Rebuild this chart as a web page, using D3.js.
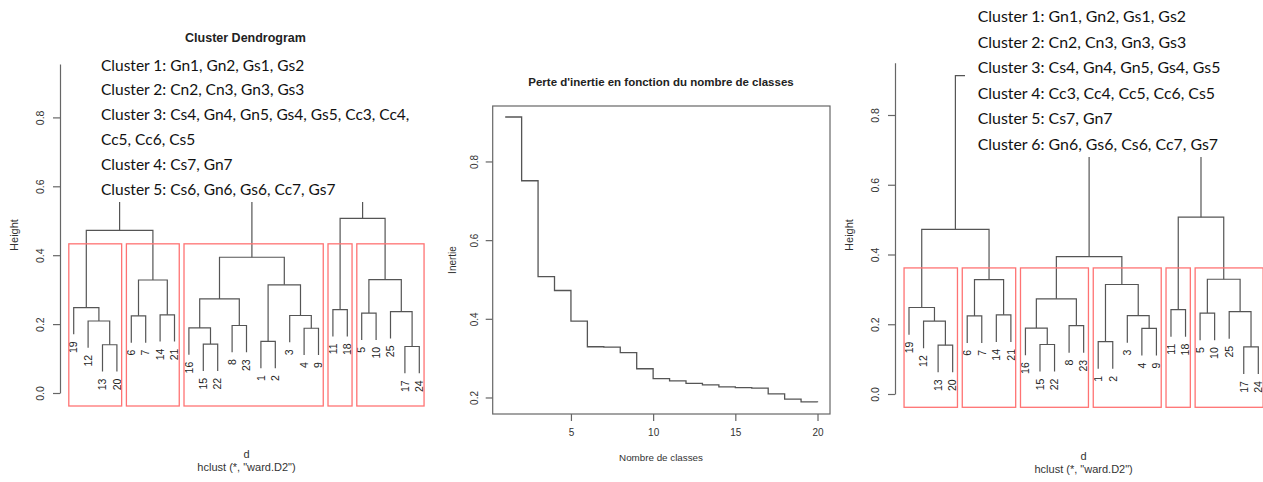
<!DOCTYPE html>
<html><head><meta charset="utf-8">
<script src="https://cdn.jsdelivr.net/npm/d3@7"></script>
<style>body{margin:0;background:#fff}svg{display:block}</style>
</head><body><svg id="c" width="1263" height="482"></svg>
<script>
// ---------- data ----------
const leafOrder = [19,12,13,20,6,7,14,21,16,15,22,8,23,1,2,3,4,9,11,18,5,10,25,17,24];
// hclust merge matrix (negative = leaf label, positive = earlier merge index, 1-based)
const mergeA = [-17,-13,-15,-1,-4,-16,-8,-12,-6,-3,-14,-5,-25,-11,-19,6,4,9,12,16,15,14,20,21];
const mergeB = [-24,-20,-22,-2,-9,3,-23,2,-7,5,-21,-10,1,-18,8,7,10,11,13,17,18,19,22,23];
const mergeHeight = [0.135,0.140,0.142,0.150,0.188,0.189,0.196,0.209,0.224,0.225,0.227,0.232,0.236,0.242,0.248,0.273,0.314,0.328,0.329,0.394,0.472,0.507,0.751,0.913];
const clusterSizes5 = [4,4,10,2,5];
const clusterSizes6 = [4,4,5,5,2,5];
const heightTicks = [0,0.2,0.4,0.6,0.8];
const nbClasses = [1,2,3,4,5,6,7,8,9,10,11,12,13,14,15,16,17,18,19,20];
const inertie = [0.913,0.751,0.507,0.472,0.394,0.329,0.328,0.314,0.273,0.248,0.242,0.236,0.232,0.227,0.225,0.224,0.209,0.196,0.189,0.188];
const classTicks = [5,10,15,20];
const inertieTicks = [0.2,0.4,0.6,0.8];
const textLeft = ["Cluster 1: Gn1, Gn2, Gs1, Gs2","Cluster 2: Cn2, Cn3, Gn3, Gs3","Cluster 3: Cs4, Gn4, Gn5, Gs4, Gs5, Cc3, Cc4,","Cc5, Cc6, Cs5","Cluster 4: Cs7, Gn7","Cluster 5: Cs6, Gn6, Gs6, Cc7, Gs7"];
const textRight = ["Cluster 1: Gn1, Gn2, Gs1, Gs2","Cluster 2: Cn2, Cn3, Gn3, Gs3","Cluster 3: Cs4, Gn4, Gn5, Gs4, Gs5","Cluster 4: Cc3, Cc4, Cc5, Cc6, Cs5","Cluster 5: Cs7, Gn7","Cluster 6: Gn6, Gs6, Cs6, Cc7, Gs7"];

// ---------- drawing ----------
const svg = d3.select("#c");
const RFONT = "'Liberation Sans', Arial, sans-serif";
const LINE = "#555";

function drawDendro(cfg){
  const g = svg.append("g");
  const x = d3.scalePoint().domain(leafOrder).range(cfg.xr);
  const step = x.step();
  const y = d3.scaleLinear().domain([0, cfg.ytop]).range([cfg.y0, cfg.y0 - cfg.ytop*cfg.ppu]);
  const hang = 0.1*(d3.max(mergeHeight)-d3.min(mergeHeight));
  const nodes = [];
  const leafParentH = {};
  mergeHeight.forEach((h,i)=>{
    const a = mergeA[i], b = mergeB[i];
    const ca = a<0 ? {x:x(-a), h:h-hang} : nodes[a-1];
    const cb = b<0 ? {x:x(-b), h:h-hang} : nodes[b-1];
    if(a<0) leafParentH[-a]=h; if(b<0) leafParentH[-b]=h;
    nodes.push({x:(ca.x+cb.x)/2, h:h, ca:ca, cb:cb});
  });
  g.selectAll("path.m").data(nodes).join("path")
    .attr("fill","none").attr("stroke",LINE).attr("stroke-width",1.2)
    .attr("d",n=>`M${n.ca.x},${y(n.ca.h)}V${y(n.h)}H${n.cb.x}V${y(n.cb.h)}`);
  // leaf labels
  g.selectAll("text.leaf").data(leafOrder).join("text")
    .attr("transform",d=>`translate(${x(d)},${y(leafParentH[d]-hang)+7}) rotate(-90)`)
    .attr("text-anchor","end").attr("dy","0.36em")
    .style("font-family",RFONT).style("font-size","10.5px").attr("fill","#222")
    .text(d=>d);
  // rectangles (rect.hclust style)
  const k = cfg.sizes.length, n = mergeHeight.length;
  const cut = (mergeHeight[n-k+1] + mergeHeight[n-k])/2;
  let cum = 0;
  const rects = cfg.sizes.map(s=>{const r={first:leafOrder[cum], last:leafOrder[cum+s-1]}; cum+=s; return r;});
  g.selectAll("rect.cl").data(rects).join("rect")
    .attr("x",r=>x(r.first)-0.34*step)
    .attr("width",r=>x(r.last)+0.33*step-(x(r.first)-0.34*step))
    .attr("y",y(cut)).attr("height",cfg.ybot-y(cut))
    .attr("fill","none").attr("stroke","#ff7373").attr("stroke-width",1.3);
  // axis
  const ax = g.append("g").attr("transform",`translate(${cfg.ax},0)`)
    .call(d3.axisLeft(y).tickValues(heightTicks).tickFormat(d3.format(".1f")).tickSize(7).tickSizeOuter(0));
  ax.select(".domain").attr("stroke","#666").attr("stroke-width",1.2);
  ax.selectAll(".tick line").attr("stroke","#666").attr("stroke-width",1.2);
  ax.selectAll(".tick text").attr("transform","rotate(-90)").attr("x",0).attr("y",-16).attr("dy",0)
    .attr("text-anchor","middle").style("font-family",RFONT).style("font-size","10.5px").attr("fill","#333");
  g.append("text").attr("transform",`translate(${cfg.hx},235) rotate(-90)`).attr("text-anchor","middle").attr("dy","0.35em")
    .style("font-family",RFONT).style("font-size","11px").attr("fill","#333").text("Height");
  const cx = (cfg.xr[0]+cfg.xr[1])/2;
  g.append("text").attr("x",cx).attr("y",cfg.subY).attr("text-anchor","middle")
    .style("font-family",RFONT).style("font-size","11px").attr("fill","#333").text("d");
  g.append("text").attr("x",cx).attr("y",cfg.subY+13).attr("text-anchor","middle")
    .style("font-family",RFONT).style("font-size","11px").attr("fill","#333").text('hclust (*, "ward.D2")');
  // white overlay with cluster text
  g.append("rect").attr("x",cfg.box[0]).attr("y",cfg.box[1]).attr("width",cfg.box[2]).attr("height",cfg.box[3]).attr("fill","#fff");
  g.selectAll("text.ct").data(cfg.lines).join("text")
    .attr("x",cfg.tx).attr("y",(d,i)=>cfg.ty+i*cfg.tdy)
    .style("font-family","Lato, 'Open Sans', sans-serif").style("font-size",cfg.tfs).attr("fill","#111")
    .text(d=>d);
  return g;
}

const L = drawDendro({xr:[73.7,419.3], y0:393, ppu:344.5, ytop:0.955, ybot:406, ax:60, hx:14, subY:458,
  sizes:clusterSizes5, box:[95,47,340,155], lines:textLeft, tx:101, ty:70.5, tdy:24.8, tfs:"15.5px"});
svg.append("text").attr("x",245.5).attr("y",41.5).attr("text-anchor","middle")
  .style("font-family",RFONT).style("font-size","12.5px").style("font-weight","bold").attr("fill","#222")
  .text("Cluster Dendrogram");
const R = drawDendro({xr:[909,1258.3], y0:394, ppu:348.75, ytop:0.95, ybot:407.3, ax:895, hx:849.5, subY:459.5,
  sizes:clusterSizes6, box:[965,0,298,157], lines:textRight, tx:977.7, ty:22.3, tdy:25.5, tfs:"15.9px"});

// ---------- middle panel ----------
const gm = svg.append("g");
const xm = d3.scaleLinear().domain([0.24,20.76]).range([492.7,830]);
const ym = d3.scaleLinear().domain([0.158,0.941]).range([414,106]);
gm.append("rect").attr("x",492.7).attr("y",106).attr("width",830-492.7).attr("height",414-106)
  .attr("fill","none").attr("stroke","#666").attr("stroke-width",1.2);
gm.append("path").datum(nbClasses.map((k,i)=>[k,inertie[i]]))
  .attr("fill","none").attr("stroke",LINE).attr("stroke-width",1.3)
  .attr("d",d3.line().x(d=>xm(d[0])).y(d=>ym(d[1])).curve(d3.curveStepAfter));
const axb = gm.append("g").attr("transform","translate(0,414)")
  .call(d3.axisBottom(xm).tickValues(classTicks).tickSize(7).tickSizeOuter(0));
axb.select(".domain").remove();
axb.selectAll(".tick line").attr("stroke","#666").attr("stroke-width",1.2);
axb.selectAll(".tick text").attr("y",15).style("font-family",RFONT).style("font-size","10px").attr("fill","#333");
const axl = gm.append("g").attr("transform","translate(492.7,0)")
  .call(d3.axisLeft(ym).tickValues(inertieTicks).tickFormat(d3.format(".1f")).tickSize(7).tickSizeOuter(0));
axl.select(".domain").remove();
axl.selectAll(".tick line").attr("stroke","#666").attr("stroke-width",1.2);
axl.selectAll(".tick text").attr("transform","rotate(-90)").attr("x",0).attr("y",-15).attr("dy",0)
  .attr("text-anchor","middle").style("font-family",RFONT).style("font-size","10px").attr("fill","#333");
gm.append("text").attr("x",661).attr("y",85.5).attr("text-anchor","middle")
  .style("font-family",RFONT).style("font-size","11.5px").style("font-weight","bold").attr("fill","#222")
  .text("Perte d'inertie en fonction du nombre de classes");
gm.append("text").attr("x",661).attr("y",460.5).attr("text-anchor","middle")
  .style("font-family",RFONT).style("font-size","9.8px").attr("fill","#333").text("Nombre de classes");
gm.append("text").attr("transform","translate(452,260) rotate(-90)").attr("text-anchor","middle").attr("dy","0.35em")
  .style("font-family",RFONT).style("font-size","10px").attr("fill","#333").text("Inertie");
</script></body></html>
